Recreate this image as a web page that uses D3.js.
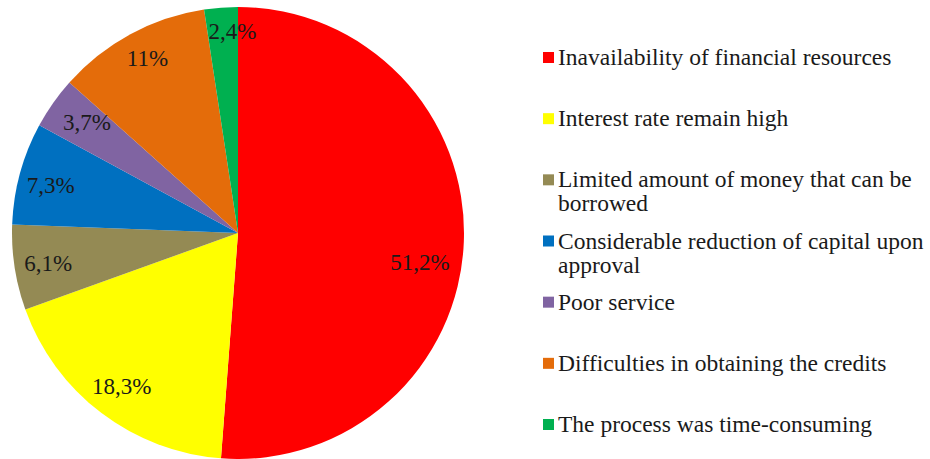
<!DOCTYPE html>
<html>
<head>
<meta charset="utf-8">
<script src="https://cdn.jsdelivr.net/npm/d3@7"></script>
<style>
  body { margin: 0; background: #fff; }
</style>
</head>
<body>
<script>
// data
var categories = [
  'Inavailability of financial resources',
  'Interest rate remain high',
  'Limited amount of money that can be borrowed',
  'Considerable reduction of capital upon approval',
  'Poor service',
  'Difficulties in obtaining the credits',
  'The process was time-consuming'
];
var values = [51.2, 18.3, 6.1, 7.3, 3.7, 11, 2.4];
var valueLabels = ['51,2%', '18,3%', '6,1%', '7,3%', '3,7%', '11%', '2,4%'];
// legend text, broken the way the picture breaks it
var legendLines = [
  ['Inavailability of financial resources'],
  ['Interest rate remain high'],
  ['Limited amount of money that can be', 'borrowed'],
  ['Considerable reduction of capital upon', 'approval'],
  ['Poor service'],
  ['Difficulties in obtaining the credits'],
  ['The process was time-consuming']
];
var colors = ['#ff0000', '#ffff00', '#948a54', '#0070c0', '#8064a2', '#e46c0a', '#00b050'];

var width = 930;
var height = 459;
var cx = 238, cy = 233, radius = 226;
// small hand nudges so labels sit where Excel put them
var labelNudge = [[-10, 22], [0, 0], [0, 0], [-2, 3], [6, -1], [1, -6], [9, -11]];

var svg = d3.select('body').append('svg')
  .attr('width', width)
  .attr('height', height);

var color = d3.scaleOrdinal().domain(categories).range(colors);

var pie = d3.pie().sort(null).value(function(d) { return d; });
var arcs = pie(values);

var arc = d3.arc().innerRadius(0).outerRadius(radius);
var labelArc = d3.arc().innerRadius(radius * 0.85).outerRadius(radius * 0.85);

var g = svg.append('g')
  .attr('transform', 'translate(' + cx + ',' + cy + ')');

g.selectAll('path.slice')
  .data(arcs)
  .enter().append('path')
    .attr('class', 'slice')
    .attr('d', arc)
    .attr('fill', function(d, i) { return color(categories[i]); });

g.selectAll('text.pct')
  .data(arcs)
  .enter().append('text')
    .attr('class', 'pct')
    .attr('transform', function(d, i) {
      var c = labelArc.centroid(d);
      c = [c[0] + labelNudge[i][0], c[1] + labelNudge[i][1]];
      return 'translate(' + c + ')';
    })
    .attr('text-anchor', 'middle')
    .attr('dy', '0.35em')
    .style('font-family', "'Liberation Serif'")
    .style('font-size', '23px')
    .style('fill', '#1a1a1a')
    .text(function(d, i) { return valueLabels[i]; });

// legend
var legendY = d3.scalePoint().domain(categories).range([57, 424]);

var item = svg.append('g').selectAll('g.legend')
  .data(categories)
  .enter().append('g')
    .attr('class', 'legend')
    .attr('transform', function(d) { return 'translate(543,' + legendY(d) + ')'; });

item.append('rect')
  .attr('x', 0)
  .attr('y', -5)
  .attr('width', 11)
  .attr('height', 11)
  .attr('fill', function(d) { return color(d); });

item.append('text')
  .attr('x', 15)
  .attr('y', 8)
  .style('font-family', "'Liberation Serif'")
  .style('font-size', '23.5px')
  .style('fill', '#1a1a1a')
  .selectAll('tspan')
  .data(function(d, i) { return legendLines[i]; })
  .enter().append('tspan')
    .attr('x', 15)
    .attr('dy', function(d, j) { return j === 0 ? 0 : 24; })
    .text(function(d) { return d; });
</script>
</body>
</html>
